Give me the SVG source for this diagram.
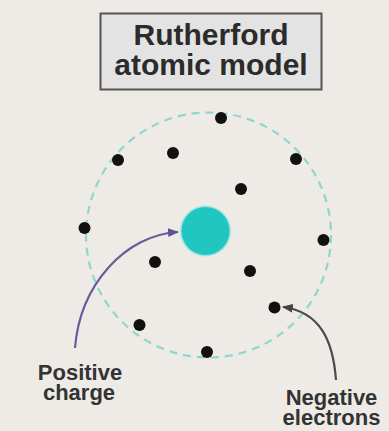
<svg xmlns="http://www.w3.org/2000/svg" width="389" height="431" viewBox="0 0 389 431">
  <defs>
    <style>
      .title { font-family: "Liberation Sans", Arial, sans-serif; font-weight: bold; font-size: 30px; fill: #2b2b2b; text-anchor: middle; }
      .label { font-family: "Liberation Sans", Arial, sans-serif; font-weight: bold; font-size: 22px; fill: #333333; text-anchor: middle; }
      .electron { fill: #111111; }
      .orbit { fill: none; stroke: #8ed6ce; stroke-width: 2.2; stroke-dasharray: 8 6; }
    </style>
    <marker id="arrPurple" viewBox="0 0 10 10" refX="9" refY="5" markerWidth="5" markerHeight="5" orient="auto-start-reverse" markerUnits="strokeWidth">
      <path d="M0,1 L10,5 L0,9 Z" fill="#5f5290"/>
    </marker>
    <marker id="arrGray" viewBox="0 0 10 10" refX="9" refY="5" markerWidth="5" markerHeight="5" orient="auto-start-reverse" markerUnits="strokeWidth">
      <path d="M0,1 L10,5 L0,9 Z" fill="#444444"/>
    </marker>
  </defs>
  <rect x="0" y="0" width="389" height="431" fill="#eeebe7"/>

  <g id="title">
    <rect x="100.5" y="13.5" width="221" height="76" fill="#e3e3e3" stroke="#555555" stroke-width="2"/>
    <text class="title" x="211" y="45">Rutherford</text>
    <text class="title" x="211" y="75">atomic model</text>
  </g>

  <g id="orbit">
    <circle class="orbit" cx="208.5" cy="235" r="122.5"/>
  </g>

  <g id="nucleus">
    <circle cx="205.5" cy="231" r="25.5" fill="#9fe6e0"/>
    <circle cx="205.5" cy="231" r="24" fill="#22c6c1"/>
  </g>

  <g id="electrons">
    <circle class="electron" cx="221" cy="118" r="6"/>
    <circle class="electron" cx="118" cy="160" r="6"/>
    <circle class="electron" cx="173" cy="153" r="6"/>
    <circle class="electron" cx="296" cy="159" r="6"/>
    <circle class="electron" cx="241" cy="189" r="6"/>
    <circle class="electron" cx="84.5" cy="228" r="6"/>
    <circle class="electron" cx="323.5" cy="240" r="6"/>
    <circle class="electron" cx="155" cy="262" r="6"/>
    <circle class="electron" cx="250" cy="271" r="6"/>
    <circle class="electron" cx="274.5" cy="307.5" r="6"/>
    <circle class="electron" cx="139.5" cy="325" r="6"/>
    <circle class="electron" cx="207" cy="352" r="6"/>
  </g>

  <g id="connectors">
    <path d="M75,348 C80,285 125,235 178,232" fill="none" stroke="#6a5c9c" stroke-width="2.2" marker-end="url(#arrPurple)"/>
    <path d="M336,380 C333,340 320,312 283,307" fill="none" stroke="#4a4a4a" stroke-width="2.2" marker-end="url(#arrGray)"/>
  </g>

  <g id="label-positive">
    <text class="label" x="80" y="380">Positive</text>
    <text class="label" x="79" y="400">charge</text>
  </g>

  <g id="label-negative">
    <text class="label" x="331.5" y="405">Negative</text>
    <text class="label" x="331.5" y="425">electrons</text>
  </g>
</svg>
